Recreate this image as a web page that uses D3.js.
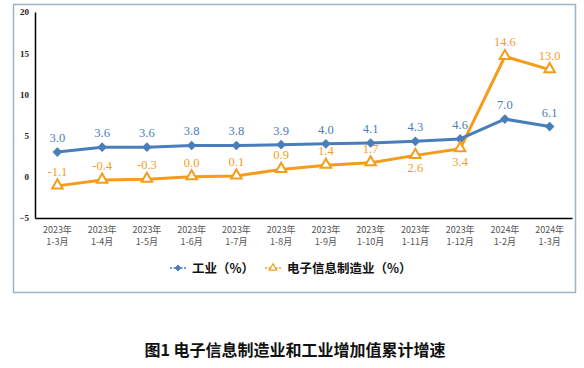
<!DOCTYPE html>
<html>
<head>
<meta charset="utf-8">
<script src="https://cdn.jsdelivr.net/npm/d3@7"></script>
<style>
    body { margin: 0; background: #fff; }
    svg { display: block; }
</style>
</head>
<body>
<svg id="chart" width="584" height="368"></svg>
<script>
const years = ["2023年", "2023年", "2023年", "2023年", "2023年", "2023年", "2023年", "2023年", "2023年", "2023年", "2024年", "2024年"];
const periods = ["1-3月", "1-4月", "1-5月", "1-6月", "1-7月", "1-8月", "1-9月", "1-10月", "1-11月", "1-12月", "1-2月", "1-3月"];
const industry = [3.0, 3.6, 3.6, 3.8, 3.8, 3.9, 4.0, 4.1, 4.3, 4.6, 7.0, 6.1];
const electronics = [-1.1, -0.4, -0.3, 0.0, 0.1, 0.9, 1.4, 1.7, 2.6, 3.4, 14.6, 13.0];
// which orange labels sit under the point
const elecBelow = [false, false, false, false, false, false, false, false, true, true, false, false];
const yTicks = [-5, 0, 5, 10, 15, 20];

const blue = "#4a7ebb";
const orange = "#f59d1b";
const cjk = "'Noto Sans CJK SC', sans-serif";
const serif = "'Liberation Serif', 'Times New Roman', serif";

const svg = d3.select("#chart");

// outer frame
svg.append("rect")
    .attr("x", 13.5).attr("y", 4.5)
    .attr("width", 562).attr("height", 288)
    .attr("fill", "#fff")
    .attr("stroke", "#9fb3cb")
    .attr("stroke-width", 1.5);

const x = d3.scaleBand()
    .domain(d3.range(years.length))
    .range([35, 572]);
const y = d3.scaleLinear()
    .domain([-5, 20])
    .range([218, 12]);
const cx = i => x(i) + x.bandwidth() / 2;

// y axis
const yAxis = svg.append("g")
    .attr("transform", "translate(35,0)")
    .call(d3.axisLeft(y).tickValues(yTicks).tickSize(0).tickPadding(6));
yAxis.select(".domain").attr("stroke", "#000").attr("stroke-width", 1.5);
yAxis.selectAll("text")
    .attr("font-family", serif)
    .attr("font-size", 9)
    .attr("font-weight", "bold")
    .attr("fill", "#222");

// x axis
const xAxis = svg.append("g")
    .attr("transform", "translate(0,218)")
    .call(d3.axisBottom(x).tickSize(0).tickFormat(""));
xAxis.select(".domain").attr("stroke", "#000").attr("stroke-width", 1.5);
xAxis.selectAll(".tick").each(function(d) {
    const t = d3.select(this).append("text")
        .attr("font-family", cjk)
        .attr("font-size", 9)
        .attr("fill", "#555")
        .attr("text-anchor", "middle");
    t.append("tspan").attr("x", 0).attr("y", 15).text(years[d]);
    t.append("tspan").attr("x", 0).attr("y", 27).text(periods[d]);
});

const line = d3.line()
    .x((d, i) => cx(i))
    .y(d => y(d));

// electronics line
svg.append("path")
    .datum(electronics)
    .attr("fill", "none")
    .attr("stroke", orange)
    .attr("stroke-width", 3)
    .attr("stroke-linejoin", "round")
    .attr("d", line);

// industry line
svg.append("path")
    .datum(industry)
    .attr("fill", "none")
    .attr("stroke", blue)
    .attr("stroke-width", 3)
    .attr("stroke-linejoin", "round")
    .attr("d", line);

const diamond = d3.symbol().type(d3.symbolDiamond2).size(60);
const triangle = d3.symbol().type(d3.symbolTriangle).size(48);

svg.append("g").selectAll("path")
    .data(industry)
    .join("path")
    .attr("d", diamond)
    .attr("transform", (d, i) => "translate(" + cx(i) + "," + y(d) + ")")
    .attr("fill", blue);

svg.append("g").selectAll("path")
    .data(electronics)
    .join("path")
    .attr("d", triangle)
    .attr("transform", (d, i) => "translate(" + cx(i) + "," + (y(d) - 0.5) + ")")
    .attr("fill", "#fff")
    .attr("stroke", orange)
    .attr("stroke-width", 2);

// data labels
svg.append("g").selectAll("text")
    .data(industry)
    .join("text")
    .attr("x", (d, i) => cx(i))
    .attr("y", d => y(d) - 10)
    .attr("text-anchor", "middle")
    .attr("font-family", serif)
    .attr("font-size", 12.5)
    .attr("fill", blue)
    .text(d => d.toFixed(1));

svg.append("g").selectAll("text")
    .data(electronics)
    .join("text")
    .attr("x", (d, i) => cx(i))
    .attr("y", (d, i) => elecBelow[i] ? y(d) + 17 : y(d) - 10)
    .attr("text-anchor", "middle")
    .attr("font-family", serif)
    .attr("font-size", 12.5)
    .attr("fill", orange)
    .text(d => d.toFixed(1));

// legend
const legend = svg.append("g").attr("transform", "translate(0,268)");
const items = [
    {name: "工业（%）", color: blue, x: 170, filled: true},
    {name: "电子信息制造业（%）", color: orange, x: 265, filled: false}
];
items.forEach(it => {
    legend.append("line")
        .attr("x1", it.x).attr("x2", it.x + 16)
        .attr("stroke", it.color)
        .attr("stroke-width", 1.5)
        .attr("stroke-dasharray", "2,1.5");
    legend.append("path")
        .attr("d", d3.symbol().type(it.filled ? d3.symbolDiamond2 : d3.symbolTriangle).size(it.filled ? 30 : 24))
        .attr("transform", "translate(" + (it.x + 8) + ",0)")
        .attr("fill", it.filled ? it.color : "#fff")
        .attr("stroke", it.filled ? "none" : it.color)
        .attr("stroke-width", 1.2);
    legend.append("text")
        .attr("x", it.x + 22)
        .attr("y", 4.5)
        .attr("font-family", cjk)
        .attr("font-size", 12.5)
        .attr("font-weight", "bold")
        .attr("fill", "#111")
        .text(it.name);
});

// caption
svg.append("text")
    .attr("x", 295)
    .attr("y", 356)
    .attr("text-anchor", "middle")
    .attr("font-family", cjk)
    .attr("font-size", 16)
    .attr("font-weight", "bold")
    .attr("fill", "#111")
    .text("图1 电子信息制造业和工业增加值累计增速");
</script>
</body>
</html>
